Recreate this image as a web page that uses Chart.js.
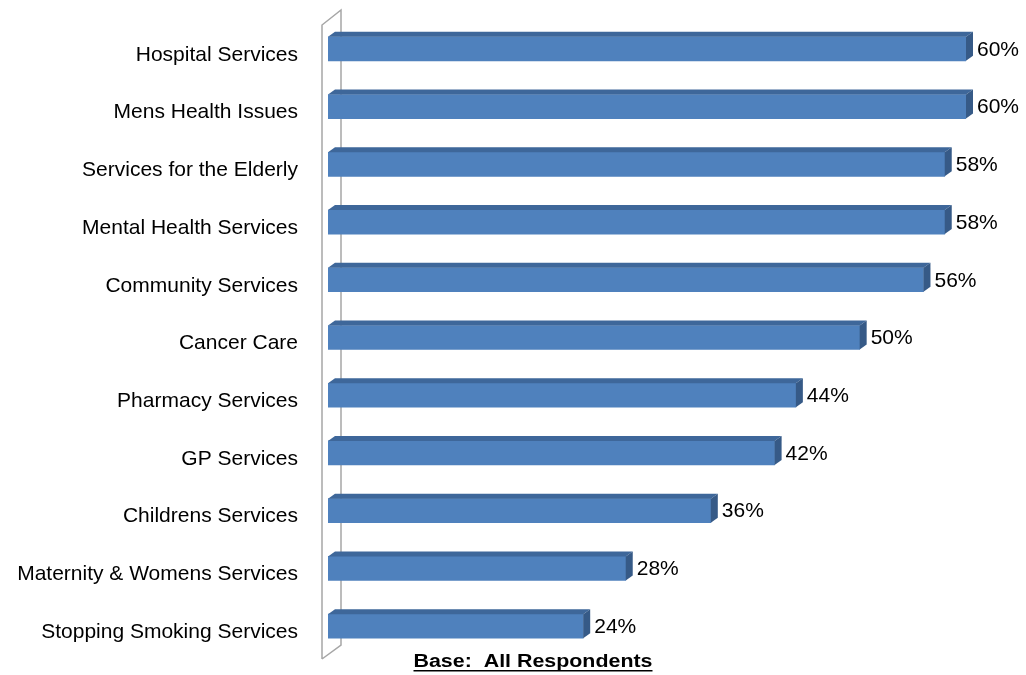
<!DOCTYPE html>
<html>
<head>
<meta charset="utf-8">
<script src="https://cdn.jsdelivr.net/npm/chart.js@4/dist/chart.umd.min.js"></script>
<style>
  html, body { margin: 0; padding: 0; background: #fff; }
  #chart { display: block; }
</style>
</head>
<body>
<canvas id="chart" width="1026" height="675"></canvas>
<script>
const categories = [
  "Hospital Services",
  "Mens Health Issues",
  "Services for the Elderly",
  "Mental Health Services",
  "Community Services",
  "Cancer Care",
  "Pharmacy Services",
  "GP Services",
  "Childrens Services",
  "Maternity & Womens Services",
  "Stopping Smoking Services",
];
const percentages = [60, 60, 58, 58, 56, 50, 44, 42, 36, 28, 24];
const footerText = "Base:  All Respondents";

const FONT = "'Liberation Sans', Arial, sans-serif";
const DEPTH_X = 7;
const DEPTH_Y = 5;

// thin grey 3d wall behind the bars
const wallPlugin = {
  id: "wall",
  beforeDatasetsDraw(chart) {
    const { ctx, chartArea } = chart;
    const left = chartArea.left;
    const fx = left - 6, bx = left + 13;
    const fTop = chartArea.top + 5, fBot = chartArea.bottom + 4;
    const bTop = chartArea.top - 10, bBot = chartArea.bottom - 10;
    ctx.save();
    ctx.strokeStyle = "#a6a6a6";
    ctx.lineWidth = 1.5;
    ctx.beginPath();
    ctx.moveTo(fx, fBot);
    ctx.lineTo(fx, fTop);
    ctx.lineTo(bx, bTop);
    ctx.lineTo(bx, bBot);
    ctx.lineTo(fx, fBot);
    ctx.stroke();
    ctx.restore();
  },
};

// top and side faces of the bars, plus value labels
const bar3dPlugin = {
  id: "bar3d",
  afterDatasetsDraw(chart) {
    const { ctx } = chart;
    const meta = chart.getDatasetMeta(0);
    ctx.save();
    meta.data.forEach((bar, i) => {
      const { x, y, base, height } = bar.getProps(["x", "y", "base", "height"], true);
      const top = y - height / 2;
      const bottom = y + height / 2;

      ctx.fillStyle = "#3e679a";
      ctx.beginPath();
      ctx.moveTo(base, top);
      ctx.lineTo(base + DEPTH_X, top - DEPTH_Y);
      ctx.lineTo(x + DEPTH_X, top - DEPTH_Y);
      ctx.lineTo(x, top);
      ctx.closePath();
      ctx.fill();

      ctx.fillStyle = "#365a87";
      ctx.beginPath();
      ctx.moveTo(x, top);
      ctx.lineTo(x + DEPTH_X, top - DEPTH_Y);
      ctx.lineTo(x + DEPTH_X, bottom - DEPTH_Y);
      ctx.lineTo(x, bottom);
      ctx.closePath();
      ctx.fill();

      ctx.fillStyle = "#000";
      ctx.font = "21px " + FONT;
      ctx.textAlign = "left";
      ctx.textBaseline = "middle";
      ctx.fillText(percentages[i] + "%", x + DEPTH_X + 4, y + 1);
    });
    ctx.restore();
  },
};

const footerPlugin = {
  id: "footer",
  afterDraw(chart) {
    const { ctx } = chart;
    const cx = 533, cy = 662;
    ctx.save();
    ctx.font = "bold 18px " + FONT;
    const w = ctx.measureText(footerText).width;
    const sx = 239 / w;
    ctx.translate(cx, cy);
    ctx.scale(sx, 1);
    ctx.fillStyle = "#000";
    ctx.textAlign = "center";
    ctx.textBaseline = "middle";
    ctx.fillText(footerText, 0, 0);
    ctx.fillRect(-w / 2, 8, w, 1.5);
    ctx.restore();
  },
};

new Chart(document.getElementById("chart"), {
  type: "bar",
  data: {
    labels: categories,
    datasets: [
      {
        data: percentages,
        backgroundColor: "#4f81bd",
        borderWidth: 0,
        barThickness: 24,
      },
    ],
  },
  options: {
    indexAxis: "y",
    responsive: false,
    devicePixelRatio: 1,
    animation: false,
    layout: { padding: { top: 20, bottom: 20, left: 0, right: 60 } },
    plugins: {
      legend: { display: false },
      tooltip: { enabled: false },
    },
    scales: {
      x: { min: 0, max: 60, display: false },
      y: {
        afterFit(scale) {
          scale.width = 328;
          scale.paddingTop = 0;
          scale.paddingBottom = 0;
        },
        grid: { display: false, drawTicks: false },
        border: { display: false },
        ticks: {
          color: "#000",
          padding: 30,
          labelOffset: 6,
          font: { family: FONT, size: 21 },
        },
      },
    },
  },
  plugins: [wallPlugin, bar3dPlugin, footerPlugin],
});
</script>
</body>
</html>
